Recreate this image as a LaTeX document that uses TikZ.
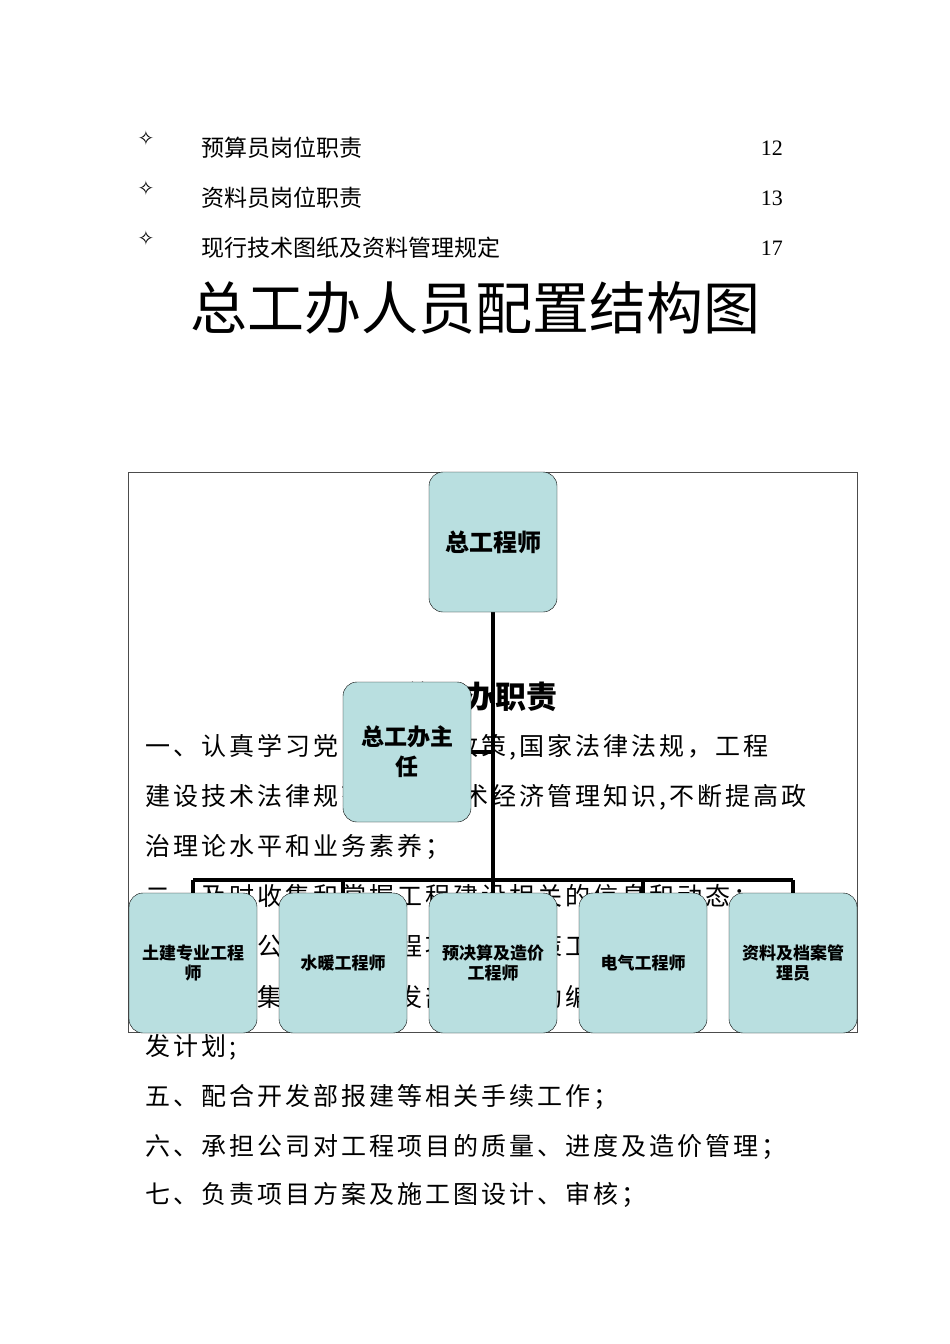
\documentclass[tikz,border=0pt]{standalone}
\usepackage{fontspec}
\setmainfont{Liberation Serif}
\newfontfamily\cjk{Noto Sans CJK SC}
\newfontfamily\cjkwide[LetterSpace=12]{Noto Sans CJK SC}
\newfontfamily\sym{DejaVu Sans}
\begin{document}
\begin{tikzpicture}[x=1pt,y=-1pt,
  orgbox/.style={draw=black,fill={rgb,255:red,185;green,223;blue,224},rounded corners=14pt,minimum width=128pt,minimum height=140pt,align=center,font=\cjk\bfseries,inner sep=2pt},
  body/.style={anchor=west,font=\cjkwide\fontsize{25}{25}\selectfont,inner sep=0pt},
  link/.style={line width=3.5pt}]
\useasboundingbox (0,0) rectangle (950,1344);
% contents list
\foreach \y/\t/\n in {148/预算员岗位职责/12,198/资料员岗位职责/13,248/现行技术图纸及资料管理规定/17}{
  \node[font=\sym\fontsize{20}{20}\selectfont] at (146,\y-10) {✧};
  \node[anchor=west,font=\cjk\fontsize{23}{23}\selectfont,inner sep=0pt] at (201,\y) {\t};
  \node[anchor=east,font=\fontsize{22}{22}\selectfont,inner sep=0pt] at (783,\y) {\n};
}
\node[font=\cjk\fontsize{57}{57}\selectfont] (title) at (475,308) {总工办人员配置结构图};
% body text underneath
\node[font=\cjk\bfseries\fontsize{31}{31}\selectfont] (sub) at (480,697) {总工办职责};
\node[body] (l1) at (145,747) {一、认真学习党的方针、政策,国家法律法规，工程};
\node[body] (l2) at (145,797) {建设技术法律规范,学习技术经济管理知识,不断提高政};
\node[body] (l3) at (145,847) {治理论水平和业务素养；};
\node[body] (l4) at (145,897) {二、及时收集和掌握工程建设相关的信息和动态；};
\node[body] (l5) at (145,947) {三、参与公司有关工程项目的决策工作；};
\node[body] (l6) at (145,997) {四、配合集团公司开发部门，协助编制项目开};
\node[body] (l7) at (145,1047) {发计划;};
\node[body] (l8) at (145,1097) {五、配合开发部报建等相关手续工作；};
\node[body] (l9) at (145,1147) {六、承担公司对工程项目的质量、进度及造价管理；};
\node[body] (l10) at (145,1195) {七、负责项目方案及施工图设计、审核；};
% frame
\draw[draw=black!70,line width=0.8pt] (128.5,472.5) rectangle (857,1032);
% connectors
\coordinate (bus) at (493,880);
\draw[link] (493,612) -- (493,880);
\draw[link] (193,880) -- (793,880);
\foreach \x in {193,343,493,643,793} \draw[link] (\x,880) -- (\x,893);
\draw[link] (471,752) -- (493,752);
% boxes
\node[orgbox,font=\cjk\bfseries\fontsize{24}{28}\selectfont] (ce) at (493,542) {总工程师};
\node[orgbox,font=\cjk\bfseries\fontsize{23}{30}\selectfont,text width=110pt] (dir) at (407,752) {总工办主\\任};
\node[orgbox,font=\cjk\bfseries\fontsize{17}{20}\selectfont] (b1) at (193,963) {土建专业工程\\师};
\node[orgbox,font=\cjk\bfseries\fontsize{17}{20}\selectfont] (b2) at (343,963) {水暖工程师};
\node[orgbox,font=\cjk\bfseries\fontsize{17}{20}\selectfont] (b3) at (493,963) {预决算及造价\\工程师};
\node[orgbox,font=\cjk\bfseries\fontsize{17}{20}\selectfont] (b4) at (643,963) {电气工程师};
\node[orgbox,font=\cjk\bfseries\fontsize{17}{20}\selectfont] (b5) at (793,963) {资料及档案管\\理员};
\end{tikzpicture}
\end{document}
